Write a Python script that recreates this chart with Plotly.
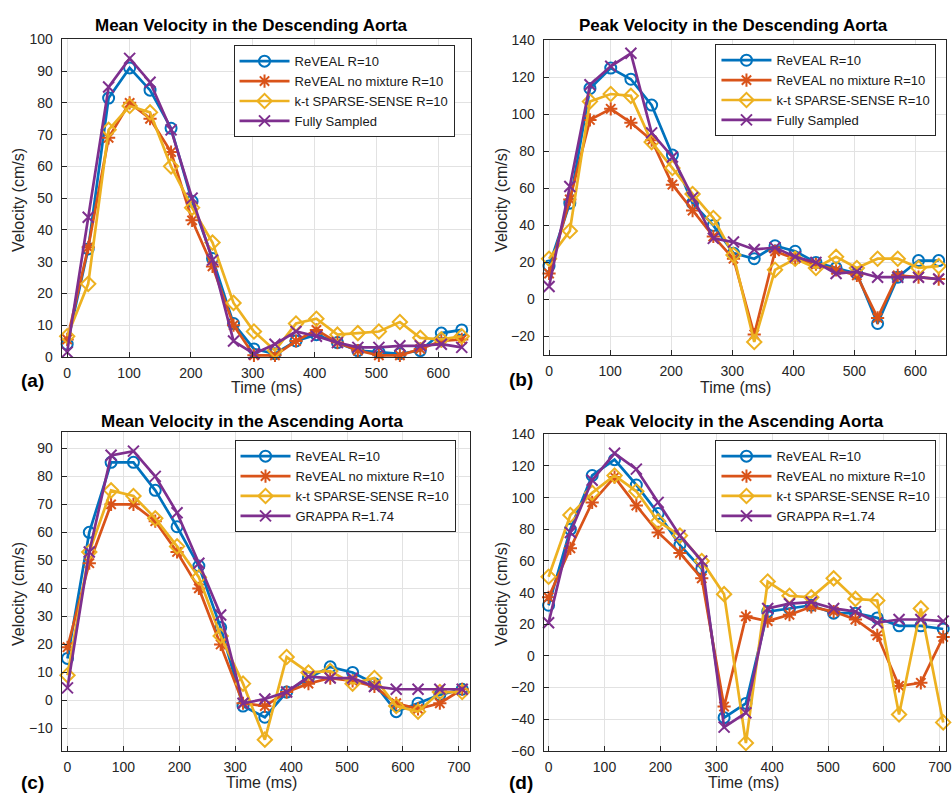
import plotly.graph_objects as go

W, H = 952, 802
FONT = "Liberation Sans, Arial, Helvetica, sans-serif"

# ---------------- data ----------------
t_desc = [0, 34, 67, 101, 134, 168, 202, 235, 269, 302, 336, 370, 403, 437, 470, 504, 538, 571, 605, 638]
t_asc = [0, 39, 78, 118, 157, 196, 235, 274, 314, 353, 392, 431, 470, 510, 549, 588, 627, 666, 706]

names_desc = ["ReVEAL R=10", "ReVEAL no mixture R=10", "k-t SPARSE-SENSE R=10", "Fully Sampled"]
names_asc = ["ReVEAL R=10", "ReVEAL no mixture R=10", "k-t SPARSE-SENSE R=10", "GRAPPA R=1.74"]

# (a) Mean velocity, descending aorta
a_reveal = [4, 34, 81.5, 91, 84, 72, 49, 31, 10.5, 2.5, 1, 5, 7, 4.5, 2, 1.5, 1, 2, 7.5, 8.5]
a_nomix = [5.5, 34.5, 69, 80, 75, 64.5, 43, 28.5, 10, 0.5, 0.5, 5, 8.5, 4.5, 2, 0.5, 0.5, 2.5, 5, 5.5]
a_kt = [6.5, 23, 71.5, 79, 77, 60, 47, 36, 17, 8, 2, 10.5, 12, 7, 7.5, 8, 11, 6, 5.5, 6.5]
a_full = [1.5, 44, 85, 94, 86.5, 71.5, 50, 30.5, 5, 1, 4, 8, 6.5, 4.5, 3, 3, 3.5, 3.5, 4, 3]

# (b) Peak velocity, descending aorta
b_reveal = [18, 52, 114, 125, 119, 105, 78, 52, 40, 25, 22, 29, 26, 20, 17, 14, -13, 12, 21, 21]
b_nomix = [14, 54, 97, 103, 95.5, 86, 62, 48, 34, 22, -19, 26, 22, 19, 16, 13, -10, 13, 12, 11]
b_kt = [22, 37, 107, 111, 110, 85, 71, 57, 44, 24, -23, 16, 22, 17, 23, 17, 22, 22, 17, 18]
b_full = [7, 61, 116, 126, 133, 90, 77, 55, 33, 31, 27, 28, 23, 20, 14, 15, 12, 12, 12, 11]

# (c) Mean velocity, ascending aorta
c_reveal = [15, 60, 85, 85, 75, 62, 48, 26, -2, -6, 3, 8, 12, 10, 6, -4, -1, 2, 4]
c_nomix = [19, 49, 70, 70, 64, 53, 40, 20, -1, -2, 3, 6, 8, 7, 5, -1, -3, -1, 4]
c_kt = [9, 53, 75, 73, 65, 55, 44, 23, 6, -14, 15.5, 10, 10.5, 6, 8, -2, -4, 3, 3]
c_grappa = [4.5, 53, 87.5, 89, 80, 67, 49, 30.5, -1, 0.5, 3, 8.5, 8, 8, 5, 4, 4, 4, 4]

# (d) Peak velocity, ascending aorta
d_reveal = [32, 80, 114, 124, 108, 90, 70, 55, -39, -30, 28, 30, 32, 27, 27, 24, 19, 19, 17]
d_nomix = [37, 68, 97, 113, 95, 78, 65, 49, -32, 25, 22, 26, 31, 28, 23, 13, -19, -17, 12]
d_kt = [50, 89, 103, 114, 104, 85, 76, 60, 39, -55, 47, 38, 37, 49, 36, 35, -37, 30, -42]
d_grappa = [21, 78, 111, 128, 118, 97, 76, 60, -45, -36, 30, 33, 34, 30, 28, 21, 23, 23, 22]

x_ticks_desc = [0, 100, 200, 300, 400, 500, 600]
x_ticks_asc = [0, 100, 200, 300, 400, 500, 600, 700]

# ---------------- styles ----------------
COLORS = ["#0072BD", "#D95319", "#EDB120", "#7E2F8E"]
SYMBOLS = ["circle-open", "asterisk-open", "diamond-open", "x-thin-open"]
AX = "#262626"
GRID = "#e2e2e2"


def px_x(p):
    return p / W


def px_y(p):
    return 1 - p / H


panels = [
    dict(t=t_desc, series=[a_reveal, a_nomix, a_kt, a_full], names=names_desc,
         xr=[-9, 653], yr=[0, 100], yt=list(range(0, 101, 10)), xt=x_ticks_desc,
         xd=(62, 474), yd=(32, 356),
         title="Mean Velocity in the Descending Aorta", tpos=(253, 18),
         label="(a)", lpos=(33, 380), xlab=(268, 387), ylab=(18, 196), leg=(235, 38)),
    dict(t=t_desc, series=[b_reveal, b_nomix, b_kt, b_full], names=names_desc,
         xr=[-9, 650], yr=[-30, 140], yt=list(range(-20, 141, 20)), xt=x_ticks_desc,
         xd=(547, 952), yd=(33, 354),
         title="Peak Velocity in the Descending Aorta", tpos=(738, 18),
         label="(b)", lpos=(524, 379), xlab=(740, 387), ylab=(504, 196), leg=(720, 37)),
    dict(t=t_asc, series=[c_reveal, c_nomix, c_kt, c_grappa], names=names_asc,
         xr=[-10.5, 720], yr=[-18, 95.7], yt=list(range(-10, 91, 10)), xt=x_ticks_asc,
         xd=(62, 473), yd=(433, 758),
         title="Mean Velocity in the Ascending Aorta", tpos=(254, 422),
         label="(c)", lpos=(33, 790), xlab=(263, 790), ylab=(18, 598), leg=(236, 441)),
    dict(t=t_asc, series=[d_reveal, d_nomix, d_kt, d_grappa], names=names_asc,
         xr=[-9, 711], yr=[-60, 140], yt=list(range(-60, 141, 20)), xt=x_ticks_asc,
         xd=(547, 952), yd=(435, 758),
         title="Peak Velocity in the Ascending Aorta", tpos=(739, 422),
         label="(d)", lpos=(524, 790), xlab=(748, 790), ylab=(504, 598), leg=(720, 441)),
]

fig = go.Figure()
layout = dict(
    width=W, height=H,
    margin=dict(l=0, r=0, t=0, b=0),
    paper_bgcolor="white", plot_bgcolor="white",
    font=dict(family=FONT, color=AX),
    annotations=[],
)

for i, p in enumerate(panels, start=1):
    sfx = "" if i == 1 else str(i)
    legname = "legend" if i == 1 else f"legend{i}"
    for k in range(4):
        fig.add_trace(go.Scatter(
            x=p["t"], y=p["series"][k], name=p["names"][k],
            mode="lines+markers",
            line=dict(color=COLORS[k], width=2.7),
            marker=dict(symbol=SYMBOLS[k], size=11, color=COLORS[k],
                        line=dict(color=COLORS[k], width=2)),
            xaxis="x" + sfx, yaxis="y" + sfx, legend=legname,
            cliponaxis=False,
        ))
    common = dict(showline=True, linecolor=AX, linewidth=1, mirror=True,
                  ticks="inside", ticklen=5, tickcolor=AX, tickwidth=1,
                  showgrid=True, gridcolor=GRID, gridwidth=1, zeroline=False,
                  ticklabeloverflow="allow",
                  tickfont=dict(family=FONT, size=14, color=AX))
    layout["xaxis" + sfx] = dict(common, domain=[px_x(p["xd"][0]), px_x(p["xd"][1])],
                                 range=p["xr"], tickvals=p["xt"], anchor="y" + sfx,
                                 ticklabelstandoff=3)
    layout["yaxis" + sfx] = dict(common, domain=[px_y(p["yd"][1]), px_y(p["yd"][0])],
                                 range=p["yr"], tickvals=p["yt"], anchor="x" + sfx,
                                 ticklabelstandoff=5)
    layout[legname] = dict(x=px_x(p["leg"][0]), y=px_y(p["leg"][1]),
                           xanchor="left", yanchor="top",
                           bgcolor="white", bordercolor=AX, borderwidth=1,
                           font=dict(family=FONT, size=13, color="#1a1a1a"),
                           tracegroupgap=0, itemwidth=50)
    ann = layout["annotations"]
    ann.append(dict(text="<b>%s</b>" % p["title"], x=px_x(p["tpos"][0]), y=px_y(p["tpos"][1]),
                    xref="paper", yref="paper", showarrow=False, xanchor="center",
                    yanchor="middle", font=dict(family=FONT, size=17, color="#000000")))
    ann.append(dict(text="<b>%s</b>" % p["label"], x=px_x(p["lpos"][0]), y=px_y(p["lpos"][1]),
                    xref="paper", yref="paper", showarrow=False, xanchor="center",
                    yanchor="middle", font=dict(family=FONT, size=19, color="#000000")))
    ann.append(dict(text="Time (ms)", x=px_x(p["xlab"][0]), y=px_y(p["xlab"][1]),
                    xref="paper", yref="paper", showarrow=False, xanchor="center",
                    yanchor="middle", font=dict(family=FONT, size=16, color=AX)))
    ann.append(dict(text="Velocity (cm/s)", x=px_x(p["ylab"][0]), y=px_y(p["ylab"][1]),
                    xref="paper", yref="paper", showarrow=False, xanchor="center",
                    yanchor="middle", textangle=-90, font=dict(family=FONT, size=16, color=AX)))

fig.update_layout(**layout)

page_fix = (
    "document.documentElement.style.margin='0';"
    "document.documentElement.style.overflow='hidden';"
    "document.body.style.margin='0';document.body.style.padding='0';"
    "document.body.style.overflow='hidden';"
    "var gd=document.getElementById('{plot_id}');"
    "gd.style.position='absolute';gd.style.left='0px';gd.style.top='0px';"
)
fig.write_html("out.html", post_script=page_fix, config={"displayModeBar": False})
